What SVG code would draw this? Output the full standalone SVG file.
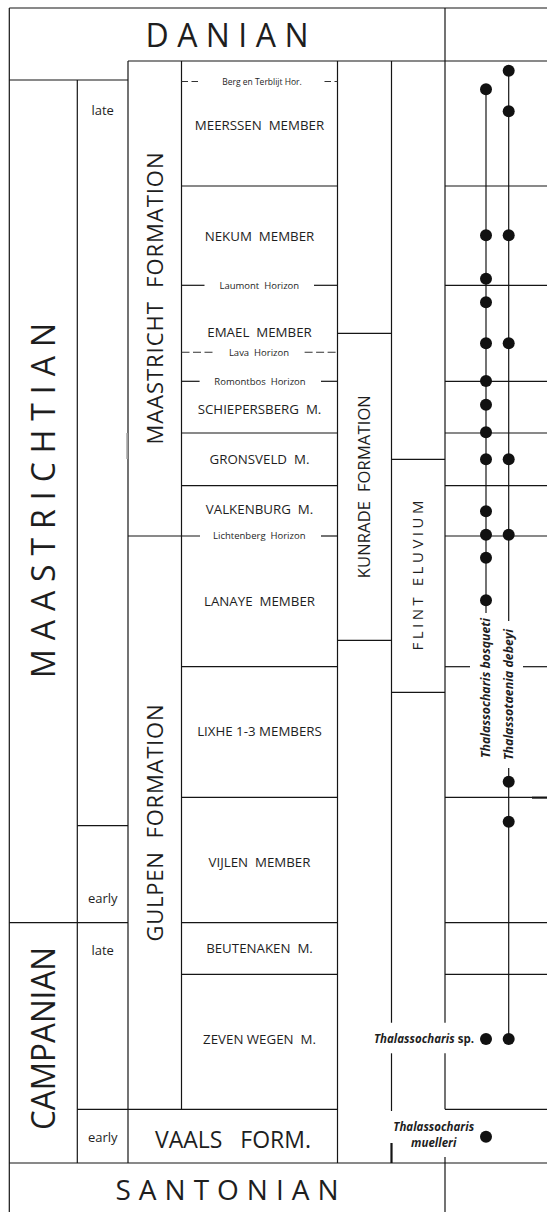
<svg xmlns="http://www.w3.org/2000/svg" width="547" height="1212" viewBox="0 0 547 1212">
<style>
.ln{stroke:#151515;stroke-width:1.2;fill:none}
.thk{stroke:#151515;stroke-width:2.2;fill:none}
.ds{stroke:#333;stroke-width:1.1;fill:none;stroke-dasharray:6.5 3.5}
.gr{stroke:#aaa;stroke-width:1.6;fill:none}
text{font-family:"Open Sans","Liberation Sans",sans-serif;fill:#1e1e1e}
.mem{font-size:13.3px;text-anchor:middle}
.hor{font-size:9.5px;text-anchor:middle}
.sub{font-size:13px;text-anchor:middle}
.big{font-size:32px;text-anchor:middle}
.fm{font-size:22px;text-anchor:middle}
.tx{font-size:12px;font-weight:bold;font-style:italic}
.dot{fill:#111}
</style>
<rect width="547" height="1212" fill="#fff"/>
<g id="connectors">
<line class="ln" x1="9.3" y1="8" x2="547" y2="8"/>
<line class="ln" x1="9.3" y1="8" x2="9.3" y2="1212"/>
<line class="ln" x1="128" y1="61" x2="547" y2="61"/>
<line class="ln" x1="9.3" y1="80" x2="128" y2="80"/>
<line class="ln" x1="77.3" y1="80" x2="77.3" y2="1163"/>
<line class="ln" x1="128" y1="61" x2="128" y2="1163"/>
<line class="gr" x1="127" y1="433" x2="127" y2="459"/>
<line class="ln" x1="181.5" y1="61" x2="181.5" y2="1109.3"/>
<line class="ln" x1="337.5" y1="61" x2="337.5" y2="1163"/>
<line class="ln" x1="391.5" y1="61" x2="391.5" y2="1022.7"/>
<line class="ln" x1="391.5" y1="1053.3" x2="391.5" y2="1111"/>
<line class="thk" x1="391.5" y1="1143" x2="391.5" y2="1163"/>
<line class="ln" x1="445" y1="8" x2="445" y2="1022.7"/>
<line class="ln" x1="445" y1="1053.3" x2="445" y2="1109.3"/>
<line class="ln" x1="445" y1="1157" x2="445" y2="1212"/>
<line class="ds" x1="181.5" y1="81.5" x2="199" y2="81.5"/>
<line class="ds" x1="324.5" y1="81.5" x2="337.5" y2="81.5"/>
<line class="ln" x1="181.5" y1="186" x2="337.5" y2="186"/>
<line class="ln" x1="181.5" y1="285.3" x2="204.5" y2="285.3"/>
<line class="ln" x1="314" y1="285.3" x2="337.5" y2="285.3"/>
<line class="ln" x1="337.5" y1="333.3" x2="391.5" y2="333.3"/>
<line class="ds" style="stroke-dasharray:8 3.5" x1="181.5" y1="352.3" x2="214" y2="352.3"/>
<line class="ds" style="stroke-dasharray:8 3.5" x1="304.6" y1="352.3" x2="337.5" y2="352.3"/>
<line class="ln" x1="181.5" y1="381.3" x2="199.6" y2="381.3"/>
<line class="ln" x1="321" y1="381.3" x2="337.5" y2="381.3"/>
<line class="ln" x1="181.5" y1="433" x2="337.5" y2="433"/>
<line class="ln" x1="391.5" y1="459.3" x2="445" y2="459.3"/>
<line class="ln" x1="181.5" y1="485.7" x2="337.5" y2="485.7"/>
<line class="ln" x1="128" y1="536" x2="200" y2="536"/>
<line class="ln" x1="321" y1="536" x2="337.5" y2="536"/>
<line class="ln" x1="337.5" y1="640.3" x2="391.5" y2="640.3"/>
<line class="ln" x1="181.5" y1="666.7" x2="337.5" y2="666.7"/>
<line class="ln" x1="391.5" y1="692.3" x2="445" y2="692.3"/>
<line class="ln" x1="181.5" y1="797.3" x2="337.5" y2="797.3"/>
<line class="ln" x1="77.3" y1="825.7" x2="128" y2="825.7"/>
<line class="ln" x1="9.3" y1="922.7" x2="128" y2="922.7"/>
<line class="ln" x1="181.5" y1="922.7" x2="337.5" y2="922.7"/>
<line class="ln" x1="181.5" y1="974.3" x2="337.5" y2="974.3"/>
<line class="ln" x1="77.3" y1="1109.3" x2="337.5" y2="1109.3"/>
<line class="ln" x1="9.3" y1="1163" x2="547" y2="1163"/>
<line class="ln" x1="445" y1="186" x2="547" y2="186"/>
<line class="ln" x1="445" y1="285.3" x2="547" y2="285.3"/>
<line class="ln" x1="445" y1="381.3" x2="547" y2="381.3"/>
<line class="ln" x1="445" y1="433" x2="547" y2="433"/>
<line class="ln" x1="445" y1="485.7" x2="547" y2="485.7"/>
<line class="ln" x1="445" y1="536" x2="547" y2="536"/>
<line class="ln" x1="445" y1="666.7" x2="470" y2="666.7"/>
<line class="ln" x1="523" y1="666.7" x2="547" y2="666.7"/>
<line class="ln" x1="445" y1="797.3" x2="532" y2="797.3"/>
<line class="thk" x1="532" y1="797.6" x2="547" y2="797.6"/>
<line class="ln" x1="445" y1="922.7" x2="547" y2="922.7"/>
<line class="ln" x1="445" y1="974.3" x2="547" y2="974.3"/>
<line class="ln" x1="445" y1="1109.3" x2="547" y2="1109.3"/>
<line class="ln" x1="486" y1="89.3" x2="486" y2="613"/>
<line class="ln" x1="508.7" y1="70.7" x2="508.7" y2="621"/>
<line class="ln" x1="508.7" y1="768" x2="508.7" y2="1039"/>
</g>
<g id="stages">
<text class="big" x="227" y="46.5" textLength="163" lengthAdjust="spacing">DANIAN</text>
<text class="big" transform="translate(43.3,500.5) rotate(-90)" x="0" y="11.4" textLength="355" lengthAdjust="spacing">MAASTRICHTIAN</text>
<text class="big" transform="translate(43.3,1038.5) rotate(-90)" x="0" y="11.4" textLength="183" lengthAdjust="spacingAndGlyphs">CAMPANIAN</text>
<text class="big" style="font-size:28px" x="227" y="1200" textLength="223" lengthAdjust="spacing">SANTONIAN</text>
<text class="sub" x="102.7" y="115">late</text>
<text class="sub" x="102.7" y="903">early</text>
<text class="sub" x="102.7" y="955">late</text>
<text class="sub" x="102.7" y="1141.5">early</text>
</g>
<g id="formations">
<text class="fm" transform="translate(154.8,298.5) rotate(-90)" x="0" y="7.8" textLength="292" lengthAdjust="spacing" xml:space="preserve">MAASTRICHT  FORMATION</text>
<text class="fm" transform="translate(154.8,823) rotate(-90)" x="0" y="7.8" textLength="237" lengthAdjust="spacing" xml:space="preserve">GULPEN  FORMATION</text>
<text class="fm" style="font-size:16.5px" transform="translate(364.5,486.7) rotate(-90)" x="0" y="5.9" textLength="183" lengthAdjust="spacing" xml:space="preserve">KUNRADE  FORMATION</text>
<text class="fm" style="font-size:15px" transform="translate(417.5,575.5) rotate(-90)" x="0" y="5.4" textLength="150" lengthAdjust="spacing">FLINT ELUVIUM</text>
<text class="fm" style="font-size:23px" x="233" y="1147.5" textLength="156" lengthAdjust="spacing" xml:space="preserve">VAALS   FORM.</text>
</g>
<g id="members">
<text class="hor" style="font-size:8.5px" x="262" y="85.3">Berg en Terblijt Hor.</text>
<text class="mem" x="259.5" y="130" xml:space="preserve">MEERSSEN  MEMBER</text>
<text class="mem" x="259.5" y="241" xml:space="preserve">NEKUM  MEMBER</text>
<text class="hor" x="259.3" y="288.6" xml:space="preserve">Laumont  Horizon</text>
<text class="mem" x="259.5" y="337" xml:space="preserve">EMAEL  MEMBER</text>
<text class="hor" x="259" y="355.6" xml:space="preserve">Lava  Horizon</text>
<text class="hor" x="260" y="384.6" xml:space="preserve">Romontbos  Horizon</text>
<text class="mem" x="259.5" y="414" xml:space="preserve">SCHIEPERSBERG  M.</text>
<text class="mem" x="259.5" y="464" xml:space="preserve">GRONSVELD  M.</text>
<text class="mem" x="259.5" y="514" xml:space="preserve">VALKENBURG  M.</text>
<text class="hor" x="259.3" y="539.3" xml:space="preserve">Lichtenberg  Horizon</text>
<text class="mem" x="259.5" y="606" xml:space="preserve">LANAYE  MEMBER</text>
<text class="mem" x="259.5" y="736">LIXHE 1-3 MEMBERS</text>
<text class="mem" x="259.5" y="867" xml:space="preserve">VIJLEN  MEMBER</text>
<text class="mem" x="259.5" y="953" xml:space="preserve">BEUTENAKEN  M.</text>
<text class="mem" x="259.5" y="1044" xml:space="preserve">ZEVEN WEGEN  M.</text>
</g>
<g id="taxa">
<text class="tx" transform="translate(486,688) rotate(-90)" x="0" y="3.8" text-anchor="middle" textLength="140" lengthAdjust="spacingAndGlyphs">Thalassocharis bosqueti</text>
<text class="tx" transform="translate(508.7,694.5) rotate(-90)" x="0" y="3.8" text-anchor="middle" textLength="131" lengthAdjust="spacingAndGlyphs">Thalassotaenia debeyi</text>
<text class="tx" style="font-size:11.5px" x="474" y="1043" text-anchor="end">Thalassocharis<tspan style="font-style:normal"> sp.</tspan></text>
<text class="tx" style="font-size:11.5px" x="433.7" y="1130.5" text-anchor="middle">Thalassocharis</text>
<text class="tx" style="font-size:11.5px" x="433.7" y="1147" text-anchor="middle">muelleri</text>
</g>
<g id="dots">
<circle class="dot" cx="508.7" cy="70.7" r="6"/>
<circle class="dot" cx="486" cy="89.3" r="6"/>
<circle class="dot" cx="508.7" cy="111.3" r="6"/>
<circle class="dot" cx="486" cy="235.3" r="6"/>
<circle class="dot" cx="508.7" cy="235.3" r="6"/>
<circle class="dot" cx="486" cy="278.7" r="6"/>
<circle class="dot" cx="486" cy="302.3" r="6"/>
<circle class="dot" cx="486" cy="343.3" r="6"/>
<circle class="dot" cx="508.7" cy="343.3" r="6"/>
<circle class="dot" cx="486" cy="381" r="6"/>
<circle class="dot" cx="486" cy="404.7" r="6"/>
<circle class="dot" cx="486" cy="432.3" r="6"/>
<circle class="dot" cx="486" cy="459.3" r="6"/>
<circle class="dot" cx="508.7" cy="459.3" r="6"/>
<circle class="dot" cx="486" cy="511.3" r="6"/>
<circle class="dot" cx="486" cy="534.7" r="6"/>
<circle class="dot" cx="508.7" cy="534.7" r="6"/>
<circle class="dot" cx="486" cy="557.7" r="6"/>
<circle class="dot" cx="486" cy="600.3" r="6"/>
<circle class="dot" cx="508.7" cy="781.7" r="6"/>
<circle class="dot" cx="508.7" cy="821.7" r="6"/>
<circle class="dot" cx="486" cy="1039" r="6"/>
<circle class="dot" cx="508.7" cy="1039" r="6"/>
<circle class="dot" cx="486" cy="1136.7" r="6"/>
</g>
</svg>
